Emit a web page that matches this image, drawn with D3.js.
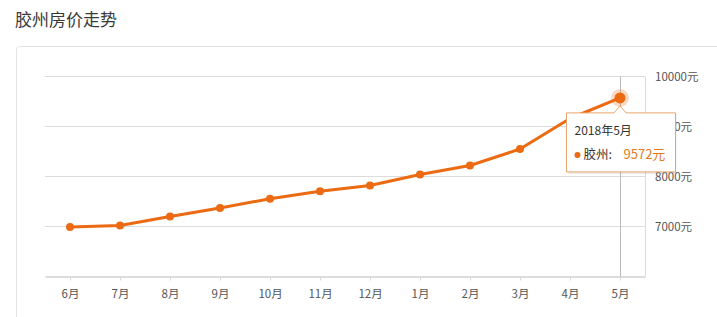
<!DOCTYPE html>
<html>
<head>
<meta charset="utf-8">
<script src="https://cdn.jsdelivr.net/npm/d3@7"></script>
<style>
  body { margin: 0; background: #fff; font-family: "Noto Sans CJK SC", "Noto Sans", sans-serif; }
</style>
</head>
<body>
<div id="chart"></div>
<script>
// 胶州房价走势 (元/平米), 2017-06 .. 2018-05
const months = ["6月", "7月", "8月", "9月", "10月", "11月", "12月", "1月", "2月", "3月", "4月", "5月"];
const prices = [6990, 7020, 7200, 7370, 7555, 7705, 7820, 8040, 8220, 8550, 9160, 9572];
const yTicks = [7000, 8000, 9000, 10000];
const tipTitle = "2018年5月";
const seriesName = "胶州";

(function() {
  const width = 717, height = 317;
  const orange = "#eb6a12";

  const svg = d3.select("#chart")
    .append("svg")
    .attr("width", width)
    .attr("height", height);

  // title
  svg.append("text")
    .attr("x", 15)
    .attr("y", 26)
    .attr("font-size", 17)
    .attr("fill", "#3a3a3a")
    .text("胶州房价走势");

  // panel border
  svg.append("rect")
    .attr("x", 16.5)
    .attr("y", 46.5)
    .attr("width", 740)
    .attr("height", 300)
    .attr("rx", 3)
    .attr("fill", "none")
    .attr("stroke", "#e3e3e3");

  const x = d3.scalePoint()
    .domain(months)
    .range([45, 645])
    .padding(0.5);

  const y = d3.scaleLinear()
    .domain([6000, 10000])
    .range([276.5, 76.5]);

  // gridlines
  svg.append("g")
    .selectAll("line")
    .data(yTicks)
    .enter().append("line")
    .attr("x1", 45)
    .attr("x2", 645)
    .attr("y1", d => y(d))
    .attr("y2", d => y(d))
    .attr("stroke", "#dcdcdc");

  // right border of plot
  svg.append("line")
    .attr("x1", 645.5).attr("x2", 645.5)
    .attr("y1", y(10000)).attr("y2", y(6000))
    .attr("stroke", "#dcdcdc");

  // y labels on the right
  svg.append("g")
    .selectAll("text")
    .data(yTicks)
    .enter().append("text")
    .attr("x", 655)
    .attr("y", d => y(d))
    .attr("dy", "0.35em")
    .attr("font-size", 11.5)
    .attr("fill", "#555")
    .text(d => d + "元");

  // x axis
  const xAxis = svg.append("g")
    .attr("transform", `translate(0,${y(6000)})`)
    .call(d3.axisBottom(x).tickSize(4).tickSizeOuter(0).tickPadding(9));
  xAxis.select(".domain").attr("stroke", "#d0d0d0").attr("stroke-width", 1.5);
  xAxis.selectAll(".tick line").attr("stroke", "#d8d8d8");
  xAxis.selectAll("text")
    .attr("font-size", 11.5)
    .attr("fill", "#555")
    .attr("font-family", "Noto Sans CJK SC, sans-serif");

  // crosshair at last month
  const last = months.length - 1;
  svg.append("line")
    .attr("x1", x(months[last]) + 0.5).attr("x2", x(months[last]) + 0.5)
    .attr("y1", y(10000)).attr("y2", y(6000))
    .attr("stroke", "#bbb");

  // line
  const line = d3.line()
    .x((d, i) => x(months[i]))
    .y(d => y(d));

  svg.append("path")
    .datum(prices)
    .attr("d", line)
    .attr("fill", "none")
    .attr("stroke", orange)
    .attr("stroke-width", 3)
    .attr("stroke-linejoin", "round");

  svg.append("g")
    .selectAll("circle")
    .data(prices)
    .enter().append("circle")
    .attr("cx", (d, i) => x(months[i]))
    .attr("cy", d => y(d))
    .attr("r", (d, i) => i === last ? 5.5 : 4)
    .attr("fill", orange);

  // hover halo
  svg.append("circle")
    .attr("cx", x(months[last]))
    .attr("cy", y(prices[last]))
    .attr("r", 9)
    .attr("fill", orange)
    .attr("fill-opacity", 0.25);

  // tooltip
  const tx = x(months[last]), ty = y(prices[last]);
  const bx0 = 566.5, bx1 = 675.5, by0 = ty + 15, by1 = ty + 74;
  const tip = svg.append("g");
  const tipPath = `M${bx0},${by0} H${tx - 6} L${tx},${by0 - 7} L${tx + 6},${by0} H${bx1} V${by1} H${bx0} Z`;
  tip.append("path")
    .attr("d", tipPath)
    .attr("transform", "translate(1,2)")
    .attr("fill", "#000")
    .attr("fill-opacity", 0.08);
  tip.append("path")
    .attr("d", tipPath)
    .attr("fill", "#fff")
    .attr("stroke", "#e9a56a")
    .attr("stroke-width", 1);
  tip.append("text")
    .attr("x", bx0 + 8)
    .attr("y", by0 + 22)
    .attr("font-size", 12)
    .attr("fill", "#333")
    .text(tipTitle);
  tip.append("circle")
    .attr("cx", bx0 + 11)
    .attr("cy", by0 + 42)
    .attr("r", 3)
    .attr("fill", orange);
  tip.append("text")
    .attr("x", bx0 + 17)
    .attr("y", by0 + 46)
    .attr("font-size", 12.5)
    .attr("fill", "#333")
    .text(seriesName + ":");
  tip.append("text")
    .attr("x", bx0 + 57)
    .attr("y", by0 + 46)
    .attr("font-size", 13)
    .attr("fill", "#e07a1f")
    .text(prices[last] + "元");
})();
</script>
</body>
</html>
